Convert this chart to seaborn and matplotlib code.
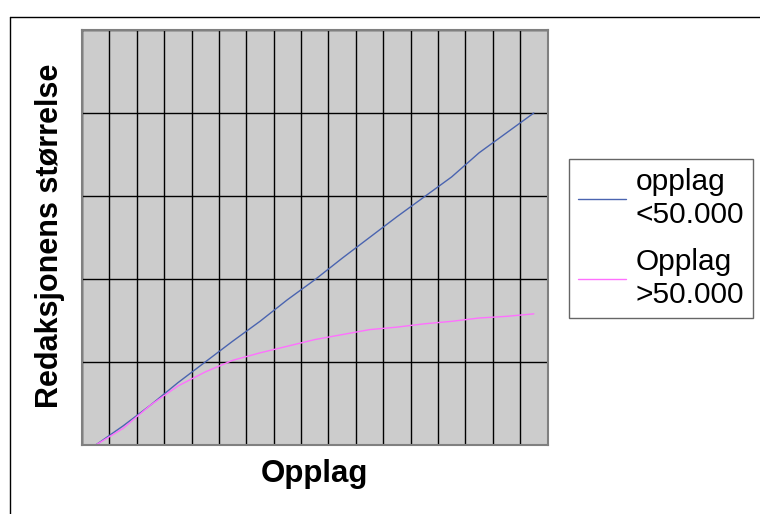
import numpy as np
import pandas as pd
import matplotlib
matplotlib.use("Agg")
import matplotlib.pyplot as plt
from matplotlib.lines import Line2D
import seaborn as sns

# circulation classes (17 steps along the x axis, no tick labels in the original)
opplag = list(range(1, 18))
under_50 = [0.0, 0.23, 0.48, 0.75, 1.0, 1.25, 1.49, 1.75, 1.99,
            2.25, 2.5, 2.75, 2.99, 3.23, 3.52, 3.76, 4.0]
over_50 = [0.0, 0.20, 0.48, 0.71, 0.88, 1.02, 1.11, 1.19, 1.27,
           1.33, 1.39, 1.42, 1.46, 1.49, 1.53, 1.55, 1.58]
series_names = ["opplag\n<50.000", "Opplag\n>50.000"]
colors = ["#4a64b0", "#ff70ff"]

df = pd.DataFrame({
    "pos": list(range(len(opplag))) * 2,
    "verdi": under_50 + over_50,
    "serie": [series_names[0]] * len(opplag) + [series_names[1]] * len(opplag),
})

sns.set_theme(style="white")
plt.rcParams["font.family"] = ["Liberation Sans", "DejaVu Sans"]
plt.rcParams["text.color"] = "black"
plt.rcParams["axes.labelcolor"] = "black"

fig = plt.figure(figsize=(7.6, 5.14), dpi=100)
ax = fig.add_axes([82 / 760, 1 - 445 / 514, (547.5 - 82) / 760, (445 - 30) / 514])
ax.set_facecolor("#cccccc")

sns.lineplot(data=df, x="pos", y="verdi", hue="serie", palette=colors,
             linewidth=1.0, ax=ax, legend=True)

n = len(opplag)
ax.set_xlim(-0.5, n - 0.5)
ax.set_ylim(0, 5)
ax.set_xticks(np.arange(-0.5, n, 1.0))
ax.set_yticks(np.arange(0, 6, 1))
ax.grid(True, color="black", linewidth=1.0)
ax.set_axisbelow(True)
ax.tick_params(length=0, labelbottom=False, labelleft=False)
for s in ax.spines.values():
    s.set_color("#808080")
    s.set_linewidth(1.5)

ax.set_xlabel("Opplag", fontsize=22.5, fontweight="bold", labelpad=10)
ax.set_ylabel("Redaksjonens størrelse", fontsize=22, fontweight="bold")
ax.yaxis.set_label_coords(-0.037, 0.505)

leg = ax.legend(loc="center left", bbox_to_anchor=(569 / 760, 1 - 238.5 / 514),
                bbox_transform=fig.transFigure, fontsize=21.5, frameon=True,
                fancybox=False, edgecolor="#404040", handlelength=1.6,
                handletextpad=0.33, borderpad=0.3, labelspacing=0.65,
                borderaxespad=0)
leg.get_frame().set_linewidth(1.0)

# outer chart border (top and left visible)
fig.add_artist(Line2D([10 / 760, 1], [1 - 17 / 514, 1 - 17 / 514], color="black", lw=1.0))
fig.add_artist(Line2D([10 / 760, 10 / 760], [0, 1 - 17 / 514], color="black", lw=1.0))

fig.savefig("out.png", dpi=100)
